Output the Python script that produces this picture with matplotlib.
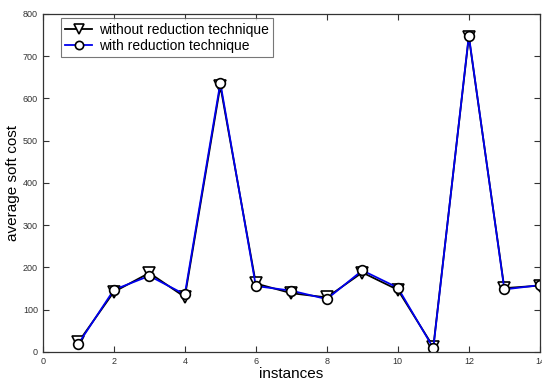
import matplotlib
matplotlib.use("Agg")
import matplotlib.pyplot as plt

instances = [1, 2, 3, 4, 5, 6, 7, 8, 9, 10, 11, 12, 13, 14]
without_reduction = [23, 142, 187, 130, 630, 162, 139, 129, 188, 147, 12, 746, 151, 157]
with_reduction = [19, 147, 180, 136, 637, 156, 145, 125, 193, 152, 9, 749, 148, 158]
xticks = [0, 2, 4, 6, 8, 10, 12, 14]
yticks = [0, 100, 200, 300, 400, 500, 600, 700, 800]

plt.rcParams['font.family'] = ['Liberation Sans', 'DejaVu Sans']

fig = plt.figure(figsize=(5.42, 3.78), dpi=100)
ax = fig.add_axes([0.079, 0.069, 0.917, 0.894])

ax.plot(instances, without_reduction, color='black', lw=1.3, marker='v',
        markersize=8, markerfacecolor='white', markeredgecolor='black',
        markeredgewidth=1.2, label='without reduction technique')
ax.plot(instances, with_reduction, color='#0000ee', lw=1.3, marker='o',
        markersize=7, markerfacecolor='white', markeredgecolor='black',
        markeredgewidth=1.2, label='with reduction technique')

ax.set_xlim(0, 14)
ax.set_ylim(0, 800)
ax.set_xticks(xticks)
ax.set_yticks(yticks)
ax.tick_params(direction='in', top=True, right=True, labelsize=6.5,
               labelcolor='#333333', length=4, width=0.8, color='#333333')
for s in ax.spines.values():
    s.set_color('#333333')
    s.set_linewidth(0.9)

ax.set_xlabel('instances', fontsize=11, labelpad=1)
ax.set_ylabel('average soft cost', fontsize=11, labelpad=2)

leg = ax.legend(loc='upper left', bbox_to_anchor=(0.037, 0.987), fontsize=10,
                frameon=True, fancybox=False, borderpad=0.3, labelspacing=0.15,
                handlelength=1.9, handletextpad=0.5, borderaxespad=0,
                markerscale=0.85)
leg.get_frame().set_edgecolor('#555555')
leg.get_frame().set_linewidth(0.8)

fig.savefig('out.png', dpi=100)
